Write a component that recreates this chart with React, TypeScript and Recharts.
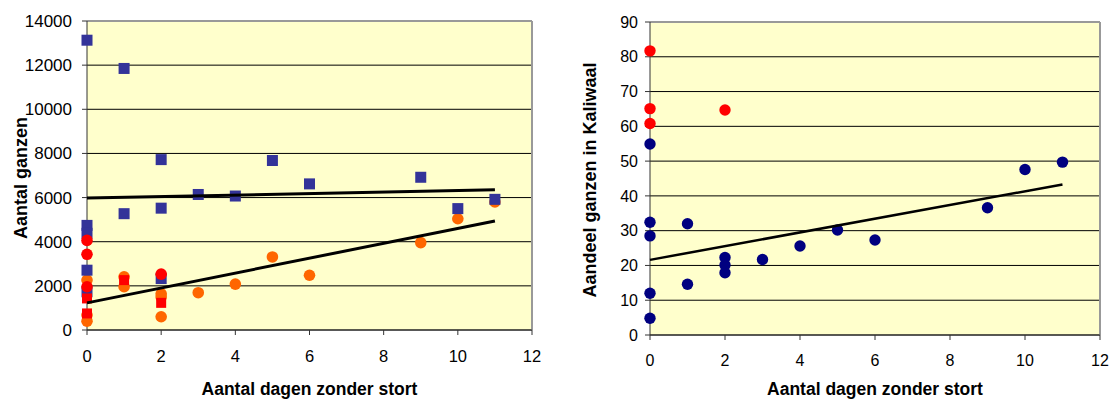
import { ScatterChart, Scatter, XAxis, YAxis, CartesianGrid, ReferenceLine } from 'recharts';

// left chart: number of geese vs days without dumping
const blueSquares = [
  { x: 0, y: 13130 }, { x: 0, y: 4740 }, { x: 0, y: 4380 }, { x: 0, y: 2710 }, { x: 0, y: 1730 },
  { x: 1, y: 11850 }, { x: 1, y: 5270 },
  { x: 2, y: 7720 }, { x: 2, y: 5520 }, { x: 2, y: 2330 },
  { x: 3, y: 6140 }, { x: 4, y: 6070 }, { x: 5, y: 7680 }, { x: 6, y: 6620 },
  { x: 9, y: 6920 }, { x: 10, y: 5500 }, { x: 11, y: 5920 },
];
const orangeCircles = [
  { x: 0, y: 2260 }, { x: 0, y: 680 }, { x: 0, y: 400 },
  { x: 1, y: 2410 }, { x: 1, y: 1960 },
  { x: 2, y: 1640 }, { x: 2, y: 1500 }, { x: 2, y: 600 },
  { x: 3, y: 1690 }, { x: 4, y: 2080 }, { x: 5, y: 3310 }, { x: 6, y: 2480 },
  { x: 9, y: 3960 }, { x: 10, y: 5040 }, { x: 11, y: 5800 },
];
const redSquares = [
  { x: 0, y: 1430 }, { x: 0, y: 750 }, { x: 1, y: 2260 }, { x: 2, y: 1230 },
];
const redCircles = [
  { x: 0, y: 4060 }, { x: 0, y: 3430 }, { x: 0, y: 1960 }, { x: 2, y: 2530 },
];
const blueTrend = [{ x: 0, y: 5980 }, { x: 11, y: 6350 }];
const orangeTrend = [{ x: 0, y: 1230 }, { x: 11, y: 4940 }];

// right chart: share of geese in Kaliwaal
const redShare = [
  { x: 0, y: 81.7 }, { x: 0, y: 65.1 }, { x: 0, y: 60.8 }, { x: 2, y: 64.7 },
];
const navyShare = [
  { x: 0, y: 54.9 }, { x: 0, y: 32.4 }, { x: 0, y: 28.5 }, { x: 0, y: 12.0 }, { x: 0, y: 4.8 },
  { x: 1, y: 32.0 }, { x: 1, y: 14.6 },
  { x: 2, y: 22.3 }, { x: 2, y: 20.1 }, { x: 2, y: 17.9 },
  { x: 3, y: 21.7 }, { x: 4, y: 25.6 }, { x: 5, y: 30.2 }, { x: 6, y: 27.3 },
  { x: 9, y: 36.6 }, { x: 10, y: 47.6 }, { x: 11, y: 49.7 },
];
const shareTrend = [{ x: 0, y: 21.6 }, { x: 11, y: 43.3 }];

const xTicks = [0, 2, 4, 6, 8, 10, 12];
const leftYTicks = [0, 2000, 4000, 6000, 8000, 10000, 12000, 14000];
const rightYTicks = [0, 10, 20, 30, 40, 50, 60, 70, 80, 90];

const FONT = 'Arial, "Liberation Sans", sans-serif';
const BG = '#FFFFCC';

const square = (fill: string, s: number) => (p: any) => (
  <rect x={p.cx - s / 2} y={p.cy - s / 2} width={s} height={s} fill={fill} />
);
const dot = (fill: string, r: number) => (p: any) => <circle cx={p.cx} cy={p.cy} r={r} fill={fill} />;
const noShape = () => <g />;

const xTitle = (props: any) => {
  const vb = props.viewBox;
  return (
    <text x={vb.x + vb.width / 2} y={vb.y + 65} textAnchor="middle" fontFamily={FONT} fontWeight="bold" fontSize={17.5} fill="#000">
      Aantal dagen zonder stort
    </text>
  );
};

const yTitle = (text: string, bx: number, cy: number) => () => (
  <text x={bx} y={cy} transform={`rotate(-90 ${bx} ${cy})`} textAnchor="middle" fontFamily={FONT} fontWeight="bold" fontSize={18} fill="#000">
    {text}
  </text>
);

const tickStyle = { fontFamily: FONT, fill: '#000' };

export default function App() {
  return (
    <div style={{ position: 'absolute', left: 0, top: 0, width: 1114, height: 399, display: 'flex', background: '#fff' }}>
      <ScatterChart width={560} height={399} margin={{ top: 21, right: 28, left: 0, bottom: 24 }}>
        <CartesianGrid vertical={false} stroke="#000" fill={BG} fillOpacity={1} />
        <XAxis
          type="number"
          dataKey="x"
          domain={[0, 12]}
          ticks={xTicks}
          height={45}
          tickSize={5}
          tickMargin={15}
          stroke="#333"
          tick={{ ...tickStyle, fontSize: 16.5 }}
          label={{ content: xTitle }}
        />
        <YAxis
          type="number"
          dataKey="y"
          domain={[0, 14000]}
          ticks={leftYTicks}
          width={87}
          tickSize={5}
          tickMargin={10}
          stroke="#333"
          tick={{ ...tickStyle, fontSize: 17 }}
          label={{ content: yTitle('Aantal ganzen', 27, 178) }}
        />
        <ReferenceLine y={14000} stroke="#999" strokeWidth={2} />
        <ReferenceLine x={12} stroke="#999" strokeWidth={2} />
        <Scatter data={orangeCircles} shape={dot('#FF6600', 5.8)} isAnimationActive={false} />
        <Scatter data={blueSquares} shape={square('#333399', 11)} isAnimationActive={false} />
        <Scatter data={redSquares} shape={square('#FF0000', 10)} isAnimationActive={false} />
        <Scatter data={redCircles} shape={dot('#FF0000', 5.8)} isAnimationActive={false} />
        <Scatter data={blueTrend} line={{ stroke: '#000', strokeWidth: 3 }} shape={noShape} isAnimationActive={false} />
        <Scatter data={orangeTrend} line={{ stroke: '#000', strokeWidth: 3 }} shape={noShape} isAnimationActive={false} />
      </ScatterChart>

      <ScatterChart width={554} height={399} margin={{ top: 22, right: 14, left: 0, bottom: 19 }}>
        <CartesianGrid vertical={false} stroke="#000" fill={BG} fillOpacity={1} />
        <XAxis
          type="number"
          dataKey="x"
          domain={[0, 12]}
          ticks={xTicks}
          height={45}
          tickSize={5}
          tickMargin={15}
          stroke="#333"
          tick={{ ...tickStyle, fontSize: 16 }}
          label={{ content: (p: any) => xTitle({ viewBox: { ...p.viewBox, y: p.viewBox.y - 5 } }) }}
        />
        <YAxis
          type="number"
          dataKey="y"
          domain={[0, 90]}
          ticks={rightYTicks}
          width={90}
          tickSize={5}
          tickMargin={7}
          stroke="#333"
          tick={{ ...tickStyle, fontSize: 16 }}
          label={{ content: yTitle('Aandeel ganzen in Kaliwaal', 36, 180) }}
        />
        <ReferenceLine y={90} stroke="#999" strokeWidth={2} />
        <ReferenceLine x={12} stroke="#999" strokeWidth={2} />
        <Scatter data={navyShare} shape={dot('#000080', 5.7)} isAnimationActive={false} />
        <Scatter data={redShare} shape={dot('#FF0000', 5.7)} isAnimationActive={false} />
        <Scatter data={shareTrend} line={{ stroke: '#000', strokeWidth: 2.5 }} shape={noShape} isAnimationActive={false} />
      </ScatterChart>
    </div>
  );
}
